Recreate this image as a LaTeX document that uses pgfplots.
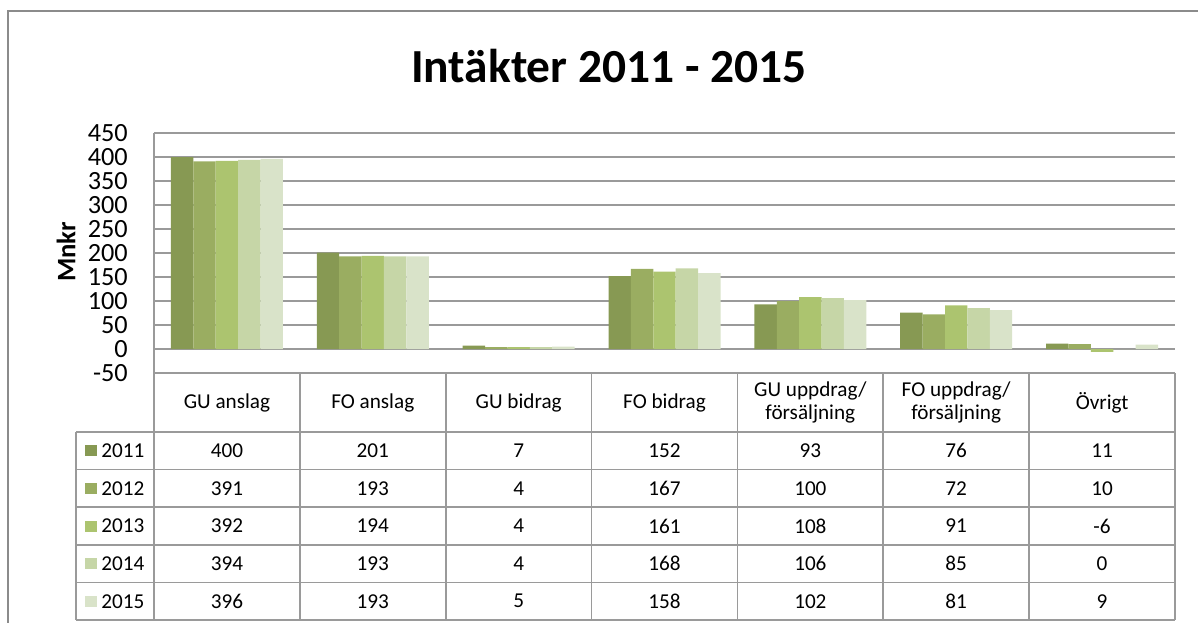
\documentclass[border=0pt]{standalone}
\usepackage{fontspec}
\setmainfont{Carlito}
\usepackage{pgfplots}
\usepackage{pgfplotstable}
\pgfplotsset{compat=1.18}

\definecolor{cA}{HTML}{879953}
\definecolor{cB}{HTML}{9AAD61}
\definecolor{cC}{HTML}{ACC46F}
\definecolor{cD}{HTML}{C6D6A7}
\definecolor{cE}{HTML}{D9E3C9}
\definecolor{gridgray}{HTML}{9A9A9A}

% Intäkter per kategori och år (Mnkr)
\pgfplotstableread{
x y2011 y2012 y2013 y2014 y2015
0 400 391 392 394 396
1 201 193 194 193 193
2 7 4 4 4 5
3 152 167 161 168 158
4 93 100 108 106 102
5 76 72 91 85 81
6 11 10 -6 0 9
}\datatable

\begin{document}
\begin{tikzpicture}[x=0.75pt, y=-0.75pt]
\useasboundingbox (0,0) rectangle (1198,623);
% outer frame
\draw[gridgray!90!black, line width=0.9pt] (8,623) -- (8,11) -- (1198,11);

\node[anchor=base, font=\fontsize{35.6}{40}\selectfont\bfseries] at (609,83) {Intäkter 2011 - 2015};
\node[rotate=90, font=\fontsize{20}{22}\selectfont\bfseries] at (66,252) {Mnkr};

\begin{axis}[
    at={(115.5pt,-279.75pt)}, anchor=south west,
    scale only axis,
    width=765.75pt, height=180pt,
    xmin=-0.5, xmax=6.5,
    ymin=-50, ymax=450,
    ytick={-50,0,...,450},
    axis x line=none,
    axis y line=left,
    axis line style={-, draw=gridgray, line width=1.2pt},
    ymajorgrids,
    grid style={gridgray, line width=1.2pt},
    major tick length=0pt,
    /pgf/number format/assume math mode=true,
    yticklabel style={font=\fontsize{19.7}{20}\selectfont, anchor=east, inner sep=0pt, xshift=-19.5pt},
    ybar=0pt, bar width=16.8pt,
    every axis plot/.append style={draw=none},
  ]
  \addplot[fill=cA] table[x=x, y=y2011] {\datatable};
  \addplot[fill=cB] table[x=x, y=y2012] {\datatable};
  \addplot[fill=cC] table[x=x, y=y2013] {\datatable};
  \addplot[fill=cD] table[x=x, y=y2014] {\datatable};
  \addplot[fill=cE] table[x=x, y=y2015] {\datatable};
\end{axis}

% data table
\begin{scope}[gridgray, line width=1.2pt]
  \draw (154,373) -- (1175,373);
  \foreach \yy in {432,469.6,507.2,544.8,582.4,620} \draw (76,\yy) -- (1175,\yy);
  \draw (76,432) -- (76,620);
  \foreach \c in {0,...,7} \draw ({154+145.857*\c},373) -- ({154+145.857*\c},620);
\end{scope}

\foreach \lab [count=\i from 0] in {GU anslag, FO anslag, GU bidrag, FO bidrag,
    {GU uppdrag/\\försäljning}, {FO uppdrag/\\försäljning}, Övrigt}
  \node[align=center, font=\fontsize{15.9}{17.3}\selectfont] at ({154+145.857*(\i+0.5)},402.5) {\lab};

\foreach \yr/\col [count=\r from 0] in {2011/cA,2012/cB,2013/cC,2014/cD,2015/cE} {
  \fill[\col] (85,{450.8+37.6*\r-5.5}) rectangle (96.5,{450.8+37.6*\r+5.5});
  \node[anchor=west, inner sep=0pt, font=\fontsize{15.9}{17.3}\selectfont] at (101,{450.8+37.6*\r}) {\yr};
  \foreach \c in {0,...,6} {
    \pgfplotstablegetelem{\c}{y\yr}\of\datatable
    \node[font=\fontsize{15.9}{17.3}\selectfont] at ({154+145.857*(\c+0.5)},{450.8+37.6*\r}) {\pgfplotsretval};
  }
}
\end{tikzpicture}
\end{document}
